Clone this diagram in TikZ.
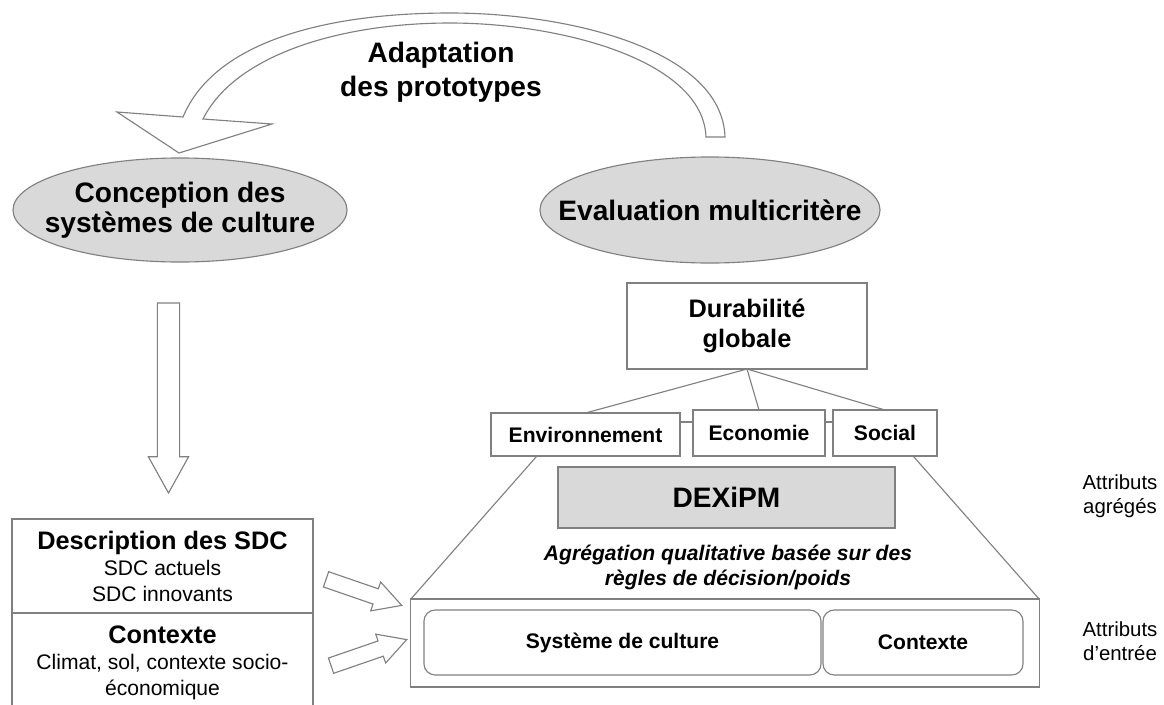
\documentclass[tikz,border=0pt]{standalone}
\usepackage{fontspec}
\setmainfont{Liberation Sans}
\usepackage{xcolor}
\usetikzlibrary{shapes,shapes.geometric,shapes.arrows,positioning,calc}
\definecolor{linegray}{RGB}{128,128,128}
\definecolor{fillgray}{RGB}{217,217,217}
\newcommand{\fsz}[2]{\fontsize{#1}{#2}\selectfont}

\begin{document}
\begin{tikzpicture}[
    x=0.025cm, y=-0.025cm,
    every node/.style={inner sep=0pt, outer sep=0pt},
    phase/.style={ellipse, draw=linegray, fill=fillgray, line width=0.8pt, align=center, font=\fsz{20}{21}\bfseries},
    box/.style={rectangle, draw=linegray, fill=white, line width=0.8pt, align=center},
    crit/.style={box, minimum height=1.15cm, font=\fsz{15}{18}\bfseries},
    input/.style={rectangle, rounded corners=8pt, draw=linegray, line width=0.8pt, minimum height=1.625cm, font=\fsz{15}{18}\bfseries},
    bigarrow/.style={single arrow, draw=linegray, fill=white, line width=0.8pt, single arrow tip angle=58, inner xsep=0pt},
    link/.style={draw=linegray, line width=0.8pt},
    attr/.style={align=center, font=\fsz{14.5}{17}}
]
    \useasboundingbox (0,0) rectangle (1164,704);

    % === Top: the two phases and the loop between them ===
    \node[phase, inner xsep=-0.5cm, minimum width=8.35cm, minimum height=2.6cm] (concep) at (180,210) {Conception des\\syst\`emes de culture};
    \node[phase, inner xsep=-0.9cm, minimum width=8.5cm, minimum height=2.65cm] (evalu) at (710,210) {Evaluation multicrit\`ere};

    % hollow curved arrow back to the design phase
    \draw[link, fill=white] (706,137) -- (725,137)
        .. controls (722,50) and (570,13) .. (450,13)
        .. controls (330,13) and (215,40) .. (183,117)
        -- (117,112) -- (179,153) -- (272,124) -- (203,119)
        .. controls (235,55) and (340,23) .. (450,23)
        .. controls (560,23) and (703,60) .. (706,137) -- cycle;
    \node[align=center, font=\fsz{20}{24}\bfseries] (adapt) at (441,72) {Adaptation\\des prototypes};

    % === Left column ===
    \node[bigarrow, rotate=-90, minimum height=4.75cm, minimum width=0.975cm, inner ysep=0.2625cm, single arrow head extend=0.225cm] (down) at (168.5,388) {};

    \node[box, minimum width=7.525cm, minimum height=2.35cm, font=\fsz{15}{18.5}] (desc) at (162.5,566)
        {{\fsz{18}{20}\bfseries Description des SDC}\\SDC actuels\\SDC innovants};
    \node[box, minimum width=7.525cm, minimum height=2.45cm, font=\fsz{15}{18.5}] (ctxl) at (162.5,662.5)
        {{\fsz{18}{20}\bfseries Contexte}\\Climat, sol, contexte socio-\\\'economique};

    \node[bigarrow, rotate=-19, minimum height=2cm, minimum width=0.735cm, inner ysep=0.1875cm, single arrow head extend=0.18cm] (in1) at (357,590) {};
    \node[bigarrow, rotate=19, minimum height=2cm, minimum width=0.735cm, inner ysep=0.1875cm, single arrow head extend=0.18cm] (in2) at (362,655) {};

    % === Right column: DEXiPM tree ===
    \node[box, minimum width=6cm, minimum height=2.15cm, font=\fsz{18}{21.3}\bfseries] (dur) at (747,326) {Durabilit\'e\\globale};
    \node[crit, minimum width=4.725cm, minimum height=1.075cm] (env) at (585.5,434.5) {Environnement};
    \node[crit, minimum width=3.3cm] (eco) at (759,433) {Economie};
    \node[crit, minimum width=2.6cm] (soc) at (885,433) {Social};

    \draw[link] (dur.south) -- (env.north);
    \draw[link] (dur.south) -- (eco.north);
    \draw[link] (dur.south) -- (soc.north);
    \draw[link] ([yshift=0.3125cm]env.east) -- ([yshift=0.3125cm]env.east -| eco.west);
    \draw[link] ([yshift=0.275cm]eco.east) -- ([yshift=0.275cm]eco.east -| soc.west);

    \node[box, fill=fillgray, minimum width=8.425cm, minimum height=1.525cm, font=\fsz{20}{24}\bfseries] (dexi) at (726.5,497.5) {DEXiPM};
    \node[align=center, font=\fsz{15}{17.8}\bfseries\itshape] (agg) at (728,567) {Agr\'egation qualitative bas\'ee sur des\\r\`egles de d\'ecision/poids};

    % input attributes
    \node[box, minimum width=15.7cm, minimum height=2.2cm] (entree) at (725,643) {};
    \draw[link] ($(env.south west)!0.243!(env.south east)$) -- (entree.north west);
    \draw[link] ($(soc.south west)!0.77!(soc.south east)$) -- (entree.north east);
    \node[input, minimum width=9.925cm] (sdc) at (622.5,642.5) {Syst\`eme de culture};
    \node[input, minimum width=5cm] (ctx) at (923,642.5) {Contexte};

    % level labels
    \node[attr] (agr) at (1120,496) {Attributs\\agr\'eg\'es};
    \node[attr] (ent) at (1120,641) {Attributs\\d'entr\'ee};
\end{tikzpicture}
\end{document}
